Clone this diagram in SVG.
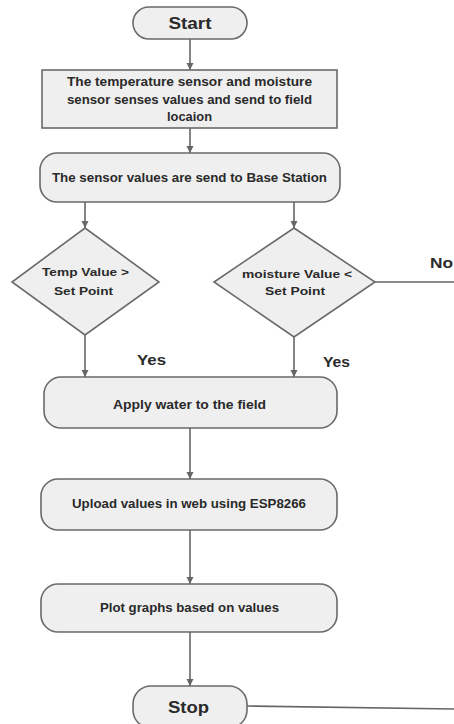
<svg xmlns="http://www.w3.org/2000/svg" width="454" height="724" viewBox="0 0 454 724">
<defs>
<marker id="ah" markerWidth="8" markerHeight="8" refX="7" refY="4" orient="auto" markerUnits="userSpaceOnUse">
<path d="M0,0.5 L7,4 L0,7.5 Z" fill="#666"/>
</marker>
</defs>
<style>
.shape{fill:#efefef;stroke:#6a6a6a;stroke-width:1.6}
.t{font-family:"Liberation Sans",Arial,sans-serif;font-weight:bold;fill:#2a2a2a;text-anchor:middle}
.lbl{font-family:"Liberation Sans",Arial,sans-serif;font-weight:bold;fill:#2a2a2a}
.c{stroke:#666;stroke-width:1.6;fill:none}
</style>
<rect width="454" height="724" fill="#ffffff"/>
<g id="connectors">
<line class="c" x1="190" y1="39" x2="190" y2="70" marker-end="url(#ah)"/>
<line class="c" x1="190" y1="128" x2="190" y2="153" marker-end="url(#ah)"/>
<line class="c" x1="85" y1="202" x2="85" y2="228" marker-end="url(#ah)"/>
<line class="c" x1="294" y1="202" x2="294" y2="228" marker-end="url(#ah)"/>
<line class="c" x1="85" y1="335" x2="85" y2="377" marker-end="url(#ah)"/>
<line class="c" x1="294" y1="337" x2="294" y2="377" marker-end="url(#ah)"/>
<line class="c" x1="375" y1="282" x2="454" y2="282"/>
<line class="c" x1="190" y1="428" x2="190" y2="479" marker-end="url(#ah)"/>
<line class="c" x1="190" y1="530" x2="190" y2="584" marker-end="url(#ah)"/>
<line class="c" x1="190" y1="632" x2="190" y2="686" marker-end="url(#ah)"/>
<line class="c" x1="247" y1="706" x2="454" y2="709"/>
<text class="lbl" x="430" y="268" font-size="15" textLength="23" lengthAdjust="spacingAndGlyphs">No</text>
<text class="lbl" x="137" y="365" font-size="15" textLength="29" lengthAdjust="spacingAndGlyphs">Yes</text>
<text class="lbl" x="323" y="367" font-size="15" textLength="27" lengthAdjust="spacingAndGlyphs">Yes</text>
</g>
<g id="start">
<rect class="shape" x="133" y="7" width="114" height="32" rx="16"/>
<text class="t" x="190" y="29" font-size="16" textLength="43" lengthAdjust="spacingAndGlyphs">Start</text>
</g>
<g id="sense">
<rect class="shape" x="42" y="70" width="295" height="58"/>
<text class="t" x="189.5" y="86" font-size="12" textLength="245" lengthAdjust="spacingAndGlyphs">The temperature sensor and moisture</text>
<text class="t" x="189.5" y="104" font-size="12" textLength="245" lengthAdjust="spacingAndGlyphs">sensor senses values and send to field</text>
<text class="t" x="189.5" y="121" font-size="12" textLength="45" lengthAdjust="spacingAndGlyphs">locaion</text>
</g>
<g id="base">
<rect class="shape" x="40" y="153" width="300" height="49" rx="17"/>
<text class="t" x="189.5" y="182" font-size="12.5" textLength="275" lengthAdjust="spacingAndGlyphs">The sensor values are send to Base Station</text>
</g>
<g id="temp">
<polygon class="shape" points="85,228 159,282 85,335 12,282"/>
<text class="t" x="85.5" y="276" font-size="11" textLength="87" lengthAdjust="spacingAndGlyphs">Temp Value &gt;</text>
<text class="t" x="83.5" y="295" font-size="11" textLength="59" lengthAdjust="spacingAndGlyphs">Set Point</text>
</g>
<g id="moisture">
<polygon class="shape" points="294,228 375,282 294,337 214,282"/>
<text class="t" x="297" y="278" font-size="11" textLength="110" lengthAdjust="spacingAndGlyphs">moisture Value &lt;</text>
<text class="t" x="295" y="295" font-size="11" textLength="60" lengthAdjust="spacingAndGlyphs">Set Point</text>
</g>
<g id="water">
<rect class="shape" x="44" y="377" width="293" height="51" rx="17"/>
<text class="t" x="189.5" y="409" font-size="12" textLength="153" lengthAdjust="spacingAndGlyphs">Apply water to the field</text>
</g>
<g id="upload">
<rect class="shape" x="41" y="479" width="296" height="51" rx="17"/>
<text class="t" x="189" y="508" font-size="12" textLength="234" lengthAdjust="spacingAndGlyphs">Upload values in web using ESP8266</text>
</g>
<g id="plot">
<rect class="shape" x="41" y="584" width="296" height="48" rx="17"/>
<text class="t" x="189.5" y="612" font-size="12" textLength="179" lengthAdjust="spacingAndGlyphs">Plot graphs based on values</text>
</g>
<g id="stop">
<rect class="shape" x="133" y="686" width="114" height="42" rx="18"/>
<text class="t" x="188.5" y="713" font-size="16" textLength="41" lengthAdjust="spacingAndGlyphs">Stop</text>
</g>
</svg>
